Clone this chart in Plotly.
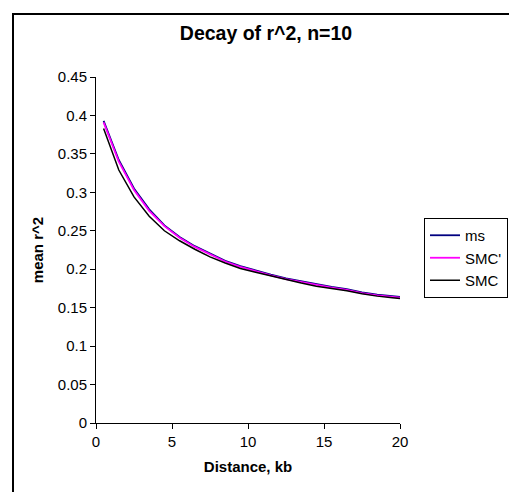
"""
Decay of r^2 with distance, n=10
"""

import plotly.graph_objects as go

distance_kb = [0.5, 1.5, 2.5, 3.5, 4.5, 5.5, 6.5, 7.5, 8.5, 9.5,
               10.5, 11.5, 12.5, 13.5, 14.5, 15.5, 16.5, 17.5, 18.5, 19.5, 20]

ms = [0.393, 0.342, 0.305, 0.278, 0.257, 0.242, 0.230, 0.220, 0.211, 0.204,
      0.198, 0.193, 0.188, 0.184, 0.180, 0.177, 0.174, 0.170, 0.167, 0.165, 0.164]
smc_prime = [0.391, 0.340, 0.303, 0.276, 0.256, 0.241, 0.229, 0.219, 0.210, 0.203,
             0.197, 0.192, 0.187, 0.183, 0.179, 0.176, 0.173, 0.169, 0.166, 0.164, 0.163]
smc = [0.383, 0.329, 0.294, 0.269, 0.250, 0.237, 0.226, 0.216, 0.208, 0.201,
       0.196, 0.191, 0.186, 0.182, 0.178, 0.175, 0.172, 0.168, 0.165, 0.163, 0.162]

FONT = "Liberation Sans, Arial, sans-serif"

fig = go.Figure()
fig.add_trace(go.Scatter(x=distance_kb, y=ms, name="ms", mode="lines",
                         line=dict(color="#000080", width=1.8)))
fig.add_trace(go.Scatter(x=distance_kb, y=smc_prime, name="SMC'", mode="lines",
                         line=dict(color="#FF00FF", width=1.8)))
fig.add_trace(go.Scatter(x=distance_kb, y=smc, name="SMC", mode="lines",
                         line=dict(color="#000000", width=1.5)))

fig.update_layout(
    width=517,
    height=492,
    margin=dict(l=88, r=125, t=69, b=77, autoexpand=False),
    paper_bgcolor="white",
    plot_bgcolor="white",
    font=dict(family=FONT, size=15, color="black"),
    title=dict(text="<b>Decay of r^2, n=10</b>", x=258 / 517, xanchor="center",
               y=1 - 25 / 492, yanchor="middle", font=dict(size=19.5)),
    legend=dict(x=(424 - 96) / 304, xanchor="left", y=(423 - 258) / 346, yanchor="middle",
                bordercolor="black", borderwidth=1, bgcolor="white",
                font=dict(size=15), tracegroupgap=0),
    showlegend=True,
)

fig.update_xaxes(
    range=[0, 20], dtick=5, tick0=0,
    showgrid=False, zeroline=False,
    showline=True, linecolor="black", linewidth=1,
    ticks="outside", ticklen=5, tickcolor="black",
    title=dict(text="<b>Distance, kb</b>", standoff=12, font=dict(size=15)),
)
fig.update_yaxes(
    range=[0, 0.45], dtick=0.05, tick0=0,
    showgrid=False, zeroline=False,
    showline=True, linecolor="black", linewidth=1,
    ticks="outside", ticklen=5, tickcolor="black",
    title=dict(text="<b>mean r^2</b>", standoff=10, font=dict(size=15)),
)

# outer chart-area frame (its right and bottom edges fall outside the view)
fig.add_shape(type="rect", xref="paper", yref="paper",
              x0=(13 - 96) / 304, x1=(530 - 96) / 304,
              y0=(415 - 500) / 346, y1=(415 - 6) / 346,
              line=dict(color="black", width=2), fillcolor="rgba(0,0,0,0)")

fig.write_html("out.html", config={"displayModeBar": False})
